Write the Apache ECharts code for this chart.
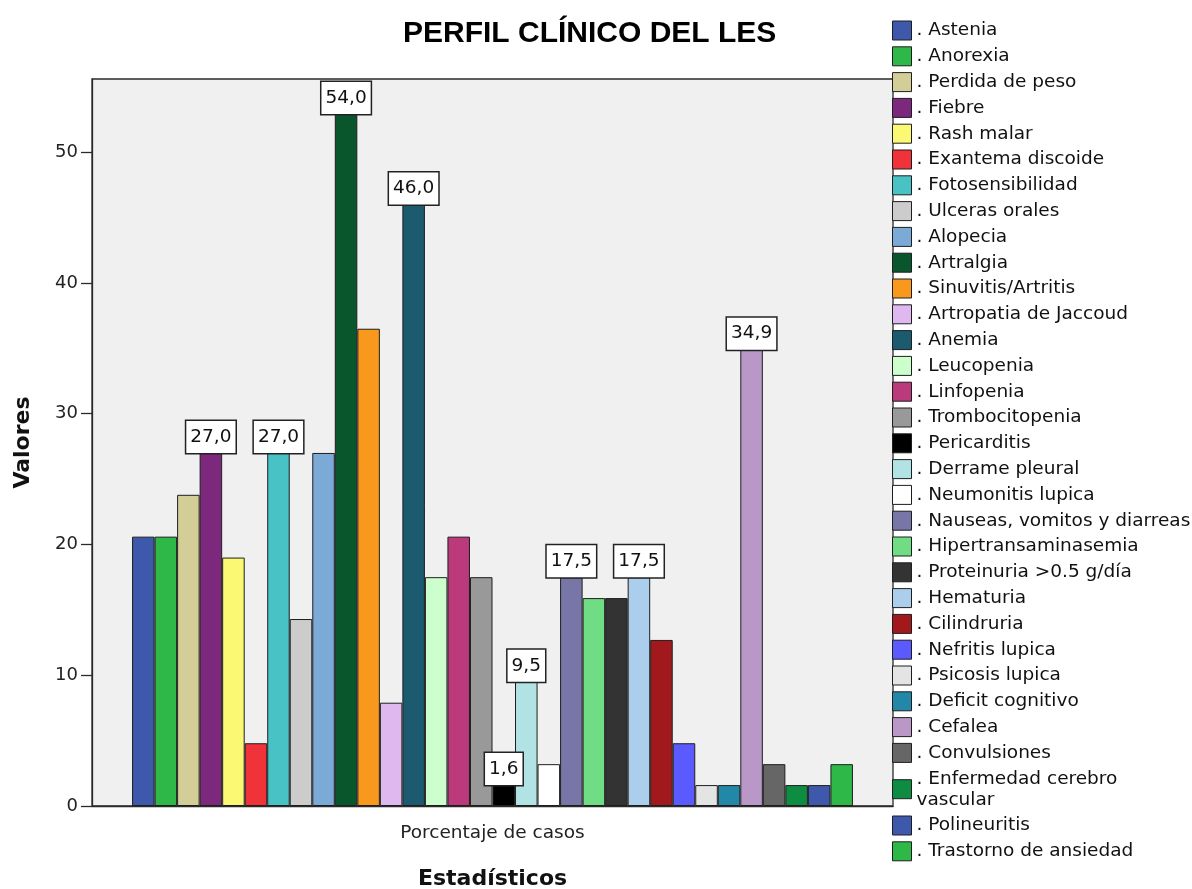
<!DOCTYPE html>
<html>
<head>
<meta charset="utf-8">
<title>Perfil clínico del LES</title>
<script src="https://cdn.jsdelivr.net/npm/echarts@6/dist/echarts.min.js"></script>
<style>
  html, body { margin: 0; padding: 0; background: #fff; }
  #perfil { width: 1192px; height: 889px; }
</style>
</head>
<body>
<div id="perfil"></div>
<script>
var categorias = ['Porcentaje de casos'];

var sintomas = [
  'Astenia', 'Anorexia', 'Perdida de peso', 'Fiebre', 'Rash malar',
  'Exantema discoide', 'Fotosensibilidad', 'Ulceras orales', 'Alopecia',
  'Artralgia', 'Sinuvitis/Artritis', 'Artropatia de Jaccoud', 'Anemia',
  'Leucopenia', 'Linfopenia', 'Trombocitopenia', 'Pericarditis',
  'Derrame pleural', 'Neumonitis lupica', 'Nauseas, vomitos y diarreas',
  'Hipertransaminasemia', 'Proteinuria >0.5 g/día', 'Hematuria',
  'Cilindruria', 'Nefritis lupica', 'Psicosis lupica', 'Deficit cognitivo',
  'Cefalea', 'Convulsiones', 'Enfermedad cerebro vascular', 'Polineuritis',
  'Trastorno de ansiedad'
];

var valores = [
  20.6, 20.6, 23.8, 27.0, 19.0,
  4.8, 27.0, 14.3, 27.0,
  54.0, 36.5, 7.9, 46.0,
  17.5, 20.6, 17.5, 1.6,
  9.5, 3.2, 17.5,
  15.9, 15.9, 17.5,
  12.7, 4.8, 1.6, 1.6,
  34.9, 3.2, 1.6, 1.6,
  3.2
];

var colores = [
  '#3e58ac', '#2eb848', '#d3ce97', '#7c287d', '#fbf873',
  '#ef3338', '#48c2c5', '#cccccc', '#7aaad5',
  '#0a562c', '#f8981d', '#dfb8f0', '#1c5a70',
  '#ccffcc', '#ba3a7c', '#999999', '#000000',
  '#b2e3e4', '#ffffff', '#7876a7',
  '#70dc84', '#333333', '#abceec',
  '#a2191d', '#5a5aff', '#e4e4e4', '#2388a8',
  '#b998c8', '#666666', '#0e8c42', '#3e58ac',
  '#2eb848'
];

// barras que llevan etiqueta de valor
var conEtiqueta = [
  'Fiebre', 'Fotosensibilidad', 'Artralgia', 'Anemia', 'Pericarditis',
  'Derrame pleural', 'Nauseas, vomitos y diarreas', 'Hematuria', 'Cefalea'
];

var marcasY = [0, 10, 20, 30, 40, 50];

var fuente = 'DejaVu Sans';

var series = sintomas.map(function (nombre, i) {
  return {
    name: nombre,
    type: 'bar',
    barGap: '0%',
    barCategoryGap: '10%',
    itemStyle: {
      color: colores[i],
      borderColor: '#1e1e1e',
      borderWidth: 1
    },
    label: {
      show: conEtiqueta.indexOf(nombre) > -1,
      position: 'top',
      distance: 0,
      // la etiqueta mas alta se mete dentro del marco
      offset: valores[i] > 50 ? [0, 14] : [0, 0],
      formatter: function (p) {
        return p.value.toFixed(1).replace('.', ',');
      },
      fontFamily: fuente,
      fontSize: 18.5,
      lineHeight: 22,
      color: '#111',
      backgroundColor: '#fff',
      borderColor: '#222',
      borderWidth: 1.5,
      padding: [5, 4, 5, 4]
    },
    emphasis: { disabled: true },
    data: [valores[i]]
  };
});

var chart = echarts.init(document.getElementById('perfil'));

var option = {
  animation: false,
  backgroundColor: '#fff',
  title: {
    text: 'PERFIL CLÍNICO DEL LES',
    left: 398,
    top: 14,
    textStyle: {
      fontFamily: 'Liberation Sans',
      fontSize: 30,
      fontWeight: 'bold',
      color: '#000'
    }
  },
  legend: {
    orient: 'vertical',
    left: 887,
    top: 15,
    itemWidth: 19,
    itemHeight: 19,
    itemGap: 4.8,
    icon: 'rect',
    itemStyle: { borderColor: '#1e1e1e', borderWidth: 1 },
    textStyle: {
      fontFamily: fuente,
      fontSize: 18.5,
      lineHeight: 21,
      color: '#111'
    },
    formatter: function (name) {
      return '. ' + name.replace(' vascular', '\nvascular');
    },
    data: sintomas
  },
  grid: {
    left: 92,
    right: 299,
    top: 79,
    bottom: 83,
    outerBoundsMode: 'none',
    containLabel: false,
    show: true,
    backgroundColor: '#f0f0f0',
    borderColor: '#2a2a2a',
    borderWidth: 1.3
  },
  xAxis: {
    type: 'category',
    data: categorias,
    name: 'Estadísticos',
    nameLocation: 'middle',
    nameGap: 62,
    nameTextStyle: {
      fontFamily: fuente,
      fontSize: 22,
      fontWeight: 'bold',
      color: '#111'
    },
    axisLine: { lineStyle: { color: '#2a2a2a', width: 1.3 } },
    axisTick: { alignWithLabel: true, length: 13, lineStyle: { color: '#2a2a2a', width: 1.3 } },
    axisLabel: {
      margin: 18,
      fontFamily: fuente,
      fontSize: 18.5,
      color: '#222'
    }
  },
  yAxis: {
    type: 'value',
    min: 0,
    max: 55.6,
    interval: 10,
    name: 'Valores',
    nameLocation: 'middle',
    nameGap: 58,
    nameTextStyle: {
      fontFamily: fuente,
      fontSize: 22,
      fontWeight: 'bold',
      color: '#111'
    },
    splitLine: { show: false },
    axisLine: { show: true, lineStyle: { color: '#2a2a2a', width: 1.3 } },
    axisTick: {
      show: true,
      length: 11,
      customValues: marcasY,
      lineStyle: { color: '#2a2a2a', width: 1.3 }
    },
    axisLabel: {
      margin: 14,
      customValues: marcasY,
      fontFamily: fuente,
      fontSize: 18,
      color: '#222'
    }
  },
  series: series
};

option && chart.setOption(option);
window.addEventListener('resize', function () {
  chart.resize();
});
</script>
</body>
</html>
